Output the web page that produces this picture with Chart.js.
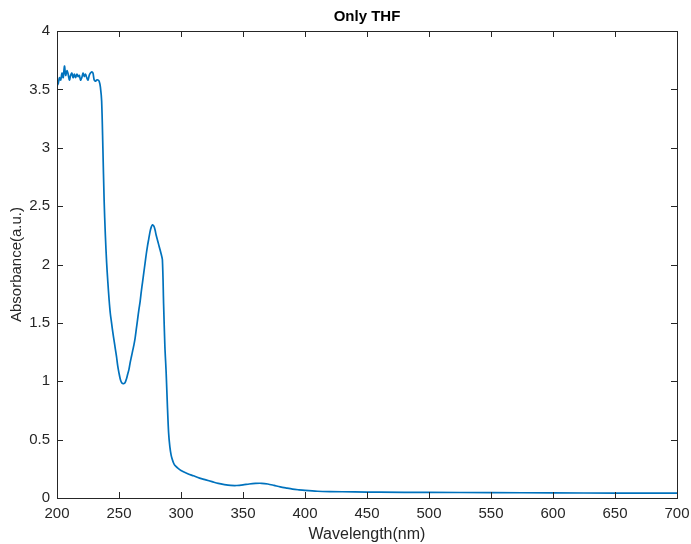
<!DOCTYPE html>
<html>
<head>
<meta charset="utf-8">
<script src="https://cdn.jsdelivr.net/npm/chart.js@4/dist/chart.umd.min.js"></script>
<style>
  html, body { margin: 0; padding: 0; background: #fff; }
  #wrap { width: 691px; height: 544px; }
</style>
</head>
<body>
<div id="wrap"><canvas id="absChart" width="691" height="544"></canvas></div>
<script>
// UV-Vis spectrum of THF
const wavelength = [
  200, 201, 202, 203, 204, 205, 206, 207, 208, 209,
  210, 211, 212, 213, 214, 215, 216, 217, 218, 219,
  220, 221, 222, 223, 224, 225, 226, 227, 228, 229,
  230, 231, 232, 233, 234, 235, 236, 237, 238, 239,
  240, 241, 242, 243, 244, 245, 246, 247, 248, 249,
  250, 251, 252, 253, 254, 255, 256, 257, 258, 259,
  260, 261, 262, 263, 264, 265, 266, 267, 268, 269,
  270, 271, 272, 273, 274, 275, 276, 277, 278, 279,
  280, 281, 282, 283, 284, 285, 286, 287, 288, 289,
  290, 291, 292, 293, 294, 295, 297, 300, 305, 310,
  315, 320, 325, 330, 335, 340, 345, 350, 355, 360,
  365, 370, 375, 380, 385, 390, 395, 400, 410, 420,
  440, 460, 500, 550, 600, 650, 700
];
const absorbance = [
  3.53, 3.55, 3.60, 3.58, 3.64, 3.60, 3.70, 3.62, 3.66, 3.63,
  3.58, 3.62, 3.64, 3.60, 3.63, 3.60, 3.63, 3.61, 3.62, 3.58,
  3.60, 3.64, 3.61, 3.63, 3.60, 3.58, 3.62, 3.64, 3.65, 3.64,
  3.58, 3.57, 3.58, 3.58, 3.57, 3.52, 3.40, 3.00, 2.55, 2.25,
  2.02, 1.85, 1.70, 1.58, 1.50, 1.42, 1.35, 1.28, 1.21, 1.13,
  1.07, 1.02, 0.99, 0.98, 0.98, 0.99, 1.02, 1.06, 1.10, 1.16,
  1.21, 1.26, 1.31, 1.37, 1.45, 1.53, 1.61, 1.68, 1.77, 1.85,
  1.93, 2.01, 2.09, 2.16, 2.22, 2.28, 2.32, 2.34, 2.33, 2.30,
  2.25, 2.21, 2.17, 2.13, 2.09, 2.04, 1.65, 1.30, 1.08, 0.80,
  0.56, 0.44, 0.37, 0.33, 0.30, 0.28, 0.26, 0.235, 0.21, 0.19,
  0.17, 0.155, 0.14, 0.125, 0.115, 0.108, 0.107, 0.112, 0.12, 0.125,
  0.126, 0.12, 0.108, 0.095, 0.085, 0.076, 0.07, 0.065, 0.058, 0.055,
  0.052, 0.05, 0.048, 0.046, 0.044, 0.042, 0.041
];
const xTicks = [200, 250, 300, 350, 400, 450, 500, 550, 600, 650, 700];
const yTicks = [0, 0.5, 1, 1.5, 2, 2.5, 3, 3.5, 4];
const chartTitle = 'Only THF';

const axisColor = '#262626';
const fontFamily = '"Liberation Sans", Arial, Helvetica, sans-serif';

// box around the plot with inward ticks on all four sides, title centred over the plot
const boxTicks = {
  id: 'boxTicks',
  afterDatasetsDraw(chart) {
    const { ctx, chartArea: a, scales } = chart;
    const len = 6;
    ctx.save();
    ctx.strokeStyle = axisColor;
    ctx.lineWidth = 1;
    ctx.beginPath();
    xTicks.forEach(v => {
      const px = Math.round(scales.x.getPixelForValue(v)) + 0.5;
      ctx.moveTo(px, a.bottom); ctx.lineTo(px, a.bottom - len);
      ctx.moveTo(px, a.top); ctx.lineTo(px, a.top + len);
    });
    yTicks.forEach(v => {
      const py = Math.round(scales.y.getPixelForValue(v)) + 0.5;
      ctx.moveTo(a.left, py); ctx.lineTo(a.left + len, py);
      ctx.moveTo(a.right, py); ctx.lineTo(a.right - len, py);
    });
    ctx.stroke();
    ctx.strokeRect(Math.round(a.left) + 0.5, Math.round(a.top) + 0.5,
      Math.round(a.right - a.left), Math.round(a.bottom - a.top));

    ctx.fillStyle = '#000';
    ctx.font = 'bold 15px ' + fontFamily;
    ctx.textAlign = 'center';
    ctx.textBaseline = 'middle';
    ctx.fillText(chartTitle, (a.left + a.right) / 2, 17);
    ctx.restore();
  }
};

const points = wavelength.map((w, i) => ({ x: w, y: absorbance[i] }));

new Chart(document.getElementById('absChart'), {
  type: 'line',
  data: {
    datasets: [{
      data: points,
      borderColor: '#0072BD',
      borderWidth: 1.7,
      pointRadius: 0,
      tension: 0.3,
      fill: false
    }]
  },
  options: {
    responsive: false,
    animation: false,
    layout: { padding: { left: 0, right: 14, top: 31, bottom: 0 } },
    plugins: {
      legend: { display: false },
      tooltip: { enabled: false },
      title: { display: false }
    },
    scales: {
      x: {
        type: 'linear',
        min: 200,
        max: 700,
        afterBuildTicks: s => { s.ticks = xTicks.map(v => ({ value: v })); },
        afterFit: s => { s.height = 46; s.paddingLeft = 0; s.paddingRight = 0; },
        grid: { display: false, drawTicks: false },
        border: { display: false },
        ticks: { color: axisColor, padding: 7, maxRotation: 0,
                 font: { family: fontFamily, size: 15 } },
        title: {
          display: true, text: 'Wavelength(nm)', color: axisColor,
          font: { family: fontFamily, size: 16 }, padding: { top: 0, bottom: 0 }
        }
      },
      y: {
        min: 0,
        max: 4,
        afterBuildTicks: s => { s.ticks = yTicks.map(v => ({ value: v })); },
        afterFit: s => { s.width = 57; s.paddingTop = 0; s.paddingBottom = 0; },
        grid: { display: false, drawTicks: false },
        border: { display: false },
        ticks: { color: axisColor, padding: 7,
                 font: { family: fontFamily, size: 15 },
                 callback: v => String(v) },
        title: {
          display: true, text: 'Absorbance(a.u.)', color: axisColor,
          font: { family: fontFamily, size: 15 }, padding: { top: 8, bottom: 0 }
        }
      }
    }
  },
  plugins: [boxTicks]
});
</script>
</body>
</html>
